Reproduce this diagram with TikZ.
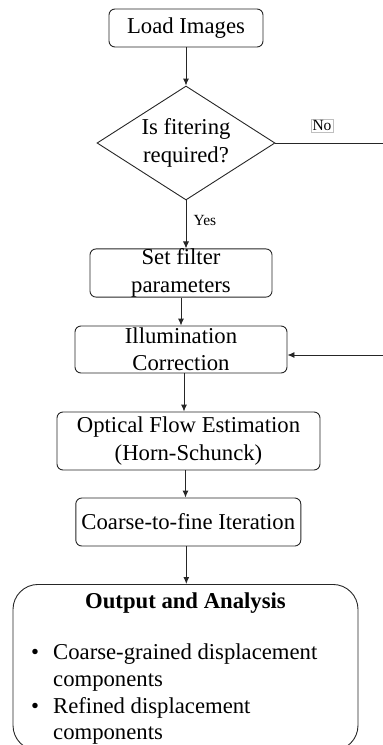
\documentclass[tikz,border=0pt]{standalone}
\usepackage{fontspec}
\setmainfont{Liberation Serif}
\usetikzlibrary{shapes.geometric,arrows.meta}
\newcommand{\mainfs}{\fontsize{22.7}{27.3}\selectfont}
\newcommand{\smallfs}{\fontsize{15.5}{18}\selectfont}
\begin{document}
\begin{tikzpicture}[x=1pt,y=-1pt,
  box/.style={draw=black!85, line width=0.9pt, rounded corners=6pt,
    align=center, inner sep=0pt, font=\mainfs},
  decision/.style={draw=black!85, line width=0.9pt, diamond, aspect=1.56,
    align=center, inner sep=0pt, font=\mainfs},
  arr/.style={draw=black!85, line width=0.9pt, -{Latex[length=7pt,width=6pt]}},
  lbl/.style={inner sep=0pt, font=\smallfs},
  item/.style={inner sep=0pt, font=\mainfs}]
\clip (0,0) rectangle (383,745);

% process steps
\node[box, minimum width=154pt, minimum height=38pt] (load) at (186,28) {Load Images};
\node[decision, minimum width=178pt, minimum height=114pt] (dec) at (186,143) {Is fitering\\required?};
\node[box, minimum width=182pt, minimum height=48pt] (setf) at (181,273) {Set filter\\parameters};
\node[box, minimum width=212pt, minimum height=47pt] (illum) at (181,349.5) {Illumination\\Correction};
\node[box, minimum width=263pt, minimum height=58pt] (opt) at (188.5,441) {Optical Flow Estimation\\(Horn-Schunck)};
\node[box, minimum width=225pt, minimum height=48pt] (ctf) at (188.3,522) {Coarse-to-fine Iteration};

% output panel
\node[draw=black!85, line width=0.9pt, rounded corners=25pt, inner sep=0pt,
  minimum width=345pt, minimum height=166pt, anchor=north] (out) at (185.5,584) {};
\node[item, font=\mainfs\bfseries, anchor=base] (outtitle) at (185.5,608.3) {Output and Analysis};
\node[item, anchor=base] (d1) at (35,659.5) {\textbullet};
\node[item, anchor=base west] (l1) at (53,659.5) {Coarse-grained displacement};
\node[item, anchor=base west] (l2) at (53,686.3) {components};
\node[item, anchor=base] (d2) at (35,713) {\textbullet};
\node[item, anchor=base west] (l3) at (53,713) {Refined displacement};
\node[item, anchor=base west] (l4) at (53,739.5) {components};

% branch labels
\node[lbl, draw=black!25, line width=0.5pt, inner sep=1.5pt] (no) at (322,125.5) {No};
\node[lbl] (yes) at (205,220) {Yes};

% main flow
\draw[arr] (load.south) -- (dec.north);
\draw[arr] (dec.south) -- (dec.south |- setf.north);
\draw[arr] (setf.south) -- (illum.north);
\draw[arr] ([xshift=3pt]illum.south) -- ([xshift=3pt]illum.south |- opt.north);
\draw[arr] ([xshift=-3pt]opt.south) -- ([xshift=-3pt]opt.south |- ctf.north);
\draw[arr] ([xshift=-2pt]ctf.south) -- ([xshift=-2pt]ctf.south |- out.north);

% "No" branch loops back to illumination correction
\coordinate (nr) at (400,143);
\coordinate (nrb) at (400,355);
\draw[arr] (dec.east) -- (nr) -- (nrb) -- (nrb -| illum.east);
\end{tikzpicture}
\end{document}
